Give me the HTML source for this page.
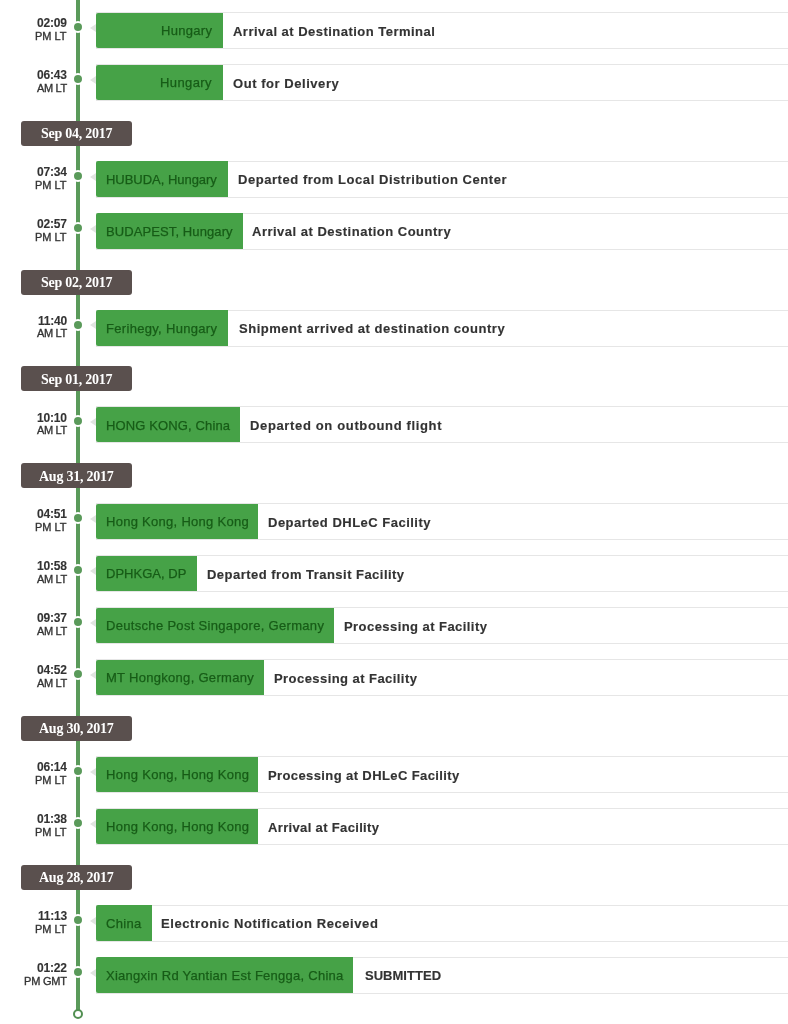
<!DOCTYPE html>
<html><head><meta charset="utf-8"><style>
*{margin:0;padding:0;box-sizing:border-box}
html,body{width:788px;height:1024px;overflow:hidden;background:#ffffff}
body{position:relative;-webkit-font-smoothing:antialiased;font-family:"Liberation Sans",sans-serif;color:#333}
.line{position:absolute;left:76px;width:4px;top:0;height:1010px;background:#5a9a5a}
.end{position:absolute;left:73px;top:1008.5px;width:10px;height:10px;border-radius:50%;border:2px solid #528f52;background:#fff}
.dot{position:absolute;left:72px;width:12px;height:12px;border-radius:50%;background:#5a9a5a;border:2px solid #ffffff}
.time{will-change:transform;position:absolute;right:721px;text-align:right;white-space:nowrap;color:#333}
.t1{-webkit-text-stroke:0.1px #333;font-weight:bold;font-size:12px;line-height:13px;letter-spacing:-0.2px}
.t2{font-size:11px;line-height:12px;-webkit-text-stroke:0.35px #333}
.card{position:absolute;left:96px;width:700px;height:37px;border:1px solid #e6e6e6;background:#fff}
.arrow{position:absolute;left:90px;width:0;height:0;border-top:4px solid transparent;border-bottom:4px solid transparent;border-right:6px solid #e0e4e0}
.loc{position:absolute;left:96px;height:35.5px;background:#46a247;border-radius:2px 0 0 2px;color:#175c17;font-size:13px;line-height:35.5px;white-space:nowrap;overflow:hidden}
.loc span{-webkit-text-stroke:0.25px #175c17;will-change:transform;position:absolute;top:0.75px}
.desc{-webkit-text-stroke:0.15px #333;will-change:transform;position:absolute;font-weight:bold;font-size:13px;line-height:37px;color:#333;white-space:nowrap}
.date{position:absolute;left:21px;width:111px;height:25px;background:#5a504e;border-radius:3px;color:#fff;font-family:"Liberation Serif",serif;font-weight:bold;font-size:14px;line-height:25px;text-align:center;letter-spacing:-0.25px}
.date span{will-change:transform;display:inline-block;position:relative;top:0.5px}
</style></head>
<body>
<div class="line"></div>
<div class="end"></div>
<div class="card" style="top:12.0px"></div>
<div class="arrow" style="top:23.75px"></div>
<div class="loc" style="top:12.50px;width:126.9px"><span style="left:65.00px;letter-spacing:0.300px">Hungary</span></div>
<div class="desc" style="top:12.5px;left:232.60px;letter-spacing:0.473px">Arrival at Destination Terminal</div>
<div class="dot" style="top:21.00px"></div>
<div class="time t1" style="top:17.2px">02:09</div>
<div class="time t2" style="top:29.8px;letter-spacing:0px">PM LT</div>
<div class="card" style="top:64.0px"></div>
<div class="arrow" style="top:75.75px"></div>
<div class="loc" style="top:64.50px;width:127.2px"><span style="left:64.30px;letter-spacing:0.400px">Hungary</span></div>
<div class="desc" style="top:64.5px;left:232.70px;letter-spacing:0.547px">Out for Delivery</div>
<div class="dot" style="top:73.00px"></div>
<div class="time t1" style="top:69.2px">06:43</div>
<div class="time t2" style="top:81.8px;letter-spacing:-0.35px">AM LT</div>
<div class="date" style="top:120.7px"><span>Sep 04, 2017</span></div>
<div class="card" style="top:160.8px"></div>
<div class="arrow" style="top:172.55px"></div>
<div class="loc" style="top:161.30px;width:131.7px"><span style="left:9.50px;letter-spacing:-0.029px">HUBUDA, Hungary</span></div>
<div class="desc" style="top:161.3px;left:237.50px;letter-spacing:0.547px">Departed from Local Distribution Center</div>
<div class="dot" style="top:169.80px"></div>
<div class="time t1" style="top:166.0px">07:34</div>
<div class="time t2" style="top:178.6px;letter-spacing:0px">PM LT</div>
<div class="card" style="top:212.8px"></div>
<div class="arrow" style="top:224.55px"></div>
<div class="loc" style="top:213.30px;width:146.8px"><span style="left:10.20px;letter-spacing:0.099px">BUDAPEST, Hungary</span></div>
<div class="desc" style="top:213.3px;left:252.20px;letter-spacing:0.497px">Arrival at Destination Country</div>
<div class="dot" style="top:221.80px"></div>
<div class="time t1" style="top:218.0px">02:57</div>
<div class="time t2" style="top:230.6px;letter-spacing:0px">PM LT</div>
<div class="date" style="top:269.5px"><span>Sep 02, 2017</span></div>
<div class="card" style="top:309.6px"></div>
<div class="arrow" style="top:321.35px"></div>
<div class="loc" style="top:310.10px;width:131.9px"><span style="left:9.50px;letter-spacing:0.312px">Ferihegy, Hungary</span></div>
<div class="desc" style="top:310.1px;left:238.60px;letter-spacing:0.527px">Shipment arrived at destination country</div>
<div class="dot" style="top:318.60px"></div>
<div class="time t1" style="top:314.8px">11:40</div>
<div class="time t2" style="top:327.4px;letter-spacing:-0.35px">AM LT</div>
<div class="date" style="top:366.3px"><span>Sep 01, 2017</span></div>
<div class="card" style="top:406.4px"></div>
<div class="arrow" style="top:418.15px"></div>
<div class="loc" style="top:406.90px;width:144.3px"><span style="left:9.50px;letter-spacing:0.133px">HONG KONG, China</span></div>
<div class="desc" style="top:406.9px;left:249.70px;letter-spacing:0.646px">Departed on outbound flight</div>
<div class="dot" style="top:415.40px"></div>
<div class="time t1" style="top:411.6px">10:10</div>
<div class="time t2" style="top:424.2px;letter-spacing:-0.35px">AM LT</div>
<div class="date" style="top:463.1px"><span>Aug 31, 2017</span></div>
<div class="card" style="top:503.2px"></div>
<div class="arrow" style="top:514.95px"></div>
<div class="loc" style="top:503.70px;width:162.4px"><span style="left:9.50px;letter-spacing:0.285px">Hong Kong, Hong Kong</span></div>
<div class="desc" style="top:503.7px;left:268.00px;letter-spacing:0.491px">Departed DHLeC Facility</div>
<div class="dot" style="top:512.20px"></div>
<div class="time t1" style="top:508.4px">04:51</div>
<div class="time t2" style="top:521.0px;letter-spacing:0px">PM LT</div>
<div class="card" style="top:555.2px"></div>
<div class="arrow" style="top:566.95px"></div>
<div class="loc" style="top:555.70px;width:100.9px"><span style="left:9.50px;letter-spacing:0.023px">DPHKGA, DP</span></div>
<div class="desc" style="top:555.7px;left:206.60px;letter-spacing:0.469px">Departed from Transit Facility</div>
<div class="dot" style="top:564.20px"></div>
<div class="time t1" style="top:560.4px">10:58</div>
<div class="time t2" style="top:573.0px;letter-spacing:-0.35px">AM LT</div>
<div class="card" style="top:607.2px"></div>
<div class="arrow" style="top:618.95px"></div>
<div class="loc" style="top:607.70px;width:238.3px"><span style="left:10.00px;letter-spacing:0.316px">Deutsche Post Singapore, Germany</span></div>
<div class="desc" style="top:607.7px;left:343.90px;letter-spacing:0.439px">Processing at Facility</div>
<div class="dot" style="top:616.20px"></div>
<div class="time t1" style="top:612.4px">09:37</div>
<div class="time t2" style="top:625.0px;letter-spacing:-0.35px">AM LT</div>
<div class="card" style="top:659.2px"></div>
<div class="arrow" style="top:670.95px"></div>
<div class="loc" style="top:659.70px;width:167.7px"><span style="left:9.50px;letter-spacing:0.294px">MT Hongkong, Germany</span></div>
<div class="desc" style="top:659.7px;left:273.90px;letter-spacing:0.439px">Processing at Facility</div>
<div class="dot" style="top:668.20px"></div>
<div class="time t1" style="top:664.4px">04:52</div>
<div class="time t2" style="top:677.0px;letter-spacing:-0.35px">AM LT</div>
<div class="date" style="top:715.9px"><span>Aug 30, 2017</span></div>
<div class="card" style="top:756.0px"></div>
<div class="arrow" style="top:767.75px"></div>
<div class="loc" style="top:756.50px;width:161.9px"><span style="left:9.50px;letter-spacing:0.295px">Hong Kong, Hong Kong</span></div>
<div class="desc" style="top:756.5px;left:268.00px;letter-spacing:0.393px">Processing at DHLeC Facility</div>
<div class="dot" style="top:765.00px"></div>
<div class="time t1" style="top:761.2px">06:14</div>
<div class="time t2" style="top:773.8px;letter-spacing:0px">PM LT</div>
<div class="card" style="top:808.0px"></div>
<div class="arrow" style="top:819.75px"></div>
<div class="loc" style="top:808.50px;width:161.9px"><span style="left:9.50px;letter-spacing:0.295px">Hong Kong, Hong Kong</span></div>
<div class="desc" style="top:808.5px;left:268.00px;letter-spacing:0.345px">Arrival at Facility</div>
<div class="dot" style="top:817.00px"></div>
<div class="time t1" style="top:813.2px">01:38</div>
<div class="time t2" style="top:825.8px;letter-spacing:0px">PM LT</div>
<div class="date" style="top:864.7px"><span>Aug 28, 2017</span></div>
<div class="card" style="top:904.8px"></div>
<div class="arrow" style="top:916.55px"></div>
<div class="loc" style="top:905.30px;width:55.7px"><span style="left:9.50px;letter-spacing:0.300px">China</span></div>
<div class="desc" style="top:905.3px;left:161.10px;letter-spacing:0.587px">Electronic Notification Received</div>
<div class="dot" style="top:913.80px"></div>
<div class="time t1" style="top:910.0px">11:13</div>
<div class="time t2" style="top:922.6px;letter-spacing:0px">PM LT</div>
<div class="card" style="top:956.8px"></div>
<div class="arrow" style="top:968.55px"></div>
<div class="loc" style="top:957.30px;width:257.1px"><span style="left:9.50px;letter-spacing:0.262px">Xiangxin Rd Yantian Est Fengga, China</span></div>
<div class="desc" style="top:957.3px;left:364.60px;letter-spacing:0.024px">SUBMITTED</div>
<div class="dot" style="top:965.80px"></div>
<div class="time t1" style="top:962.0px">01:22</div>
<div class="time t2" style="top:974.6px;letter-spacing:-0.2px">PM GMT</div>
</body></html>
